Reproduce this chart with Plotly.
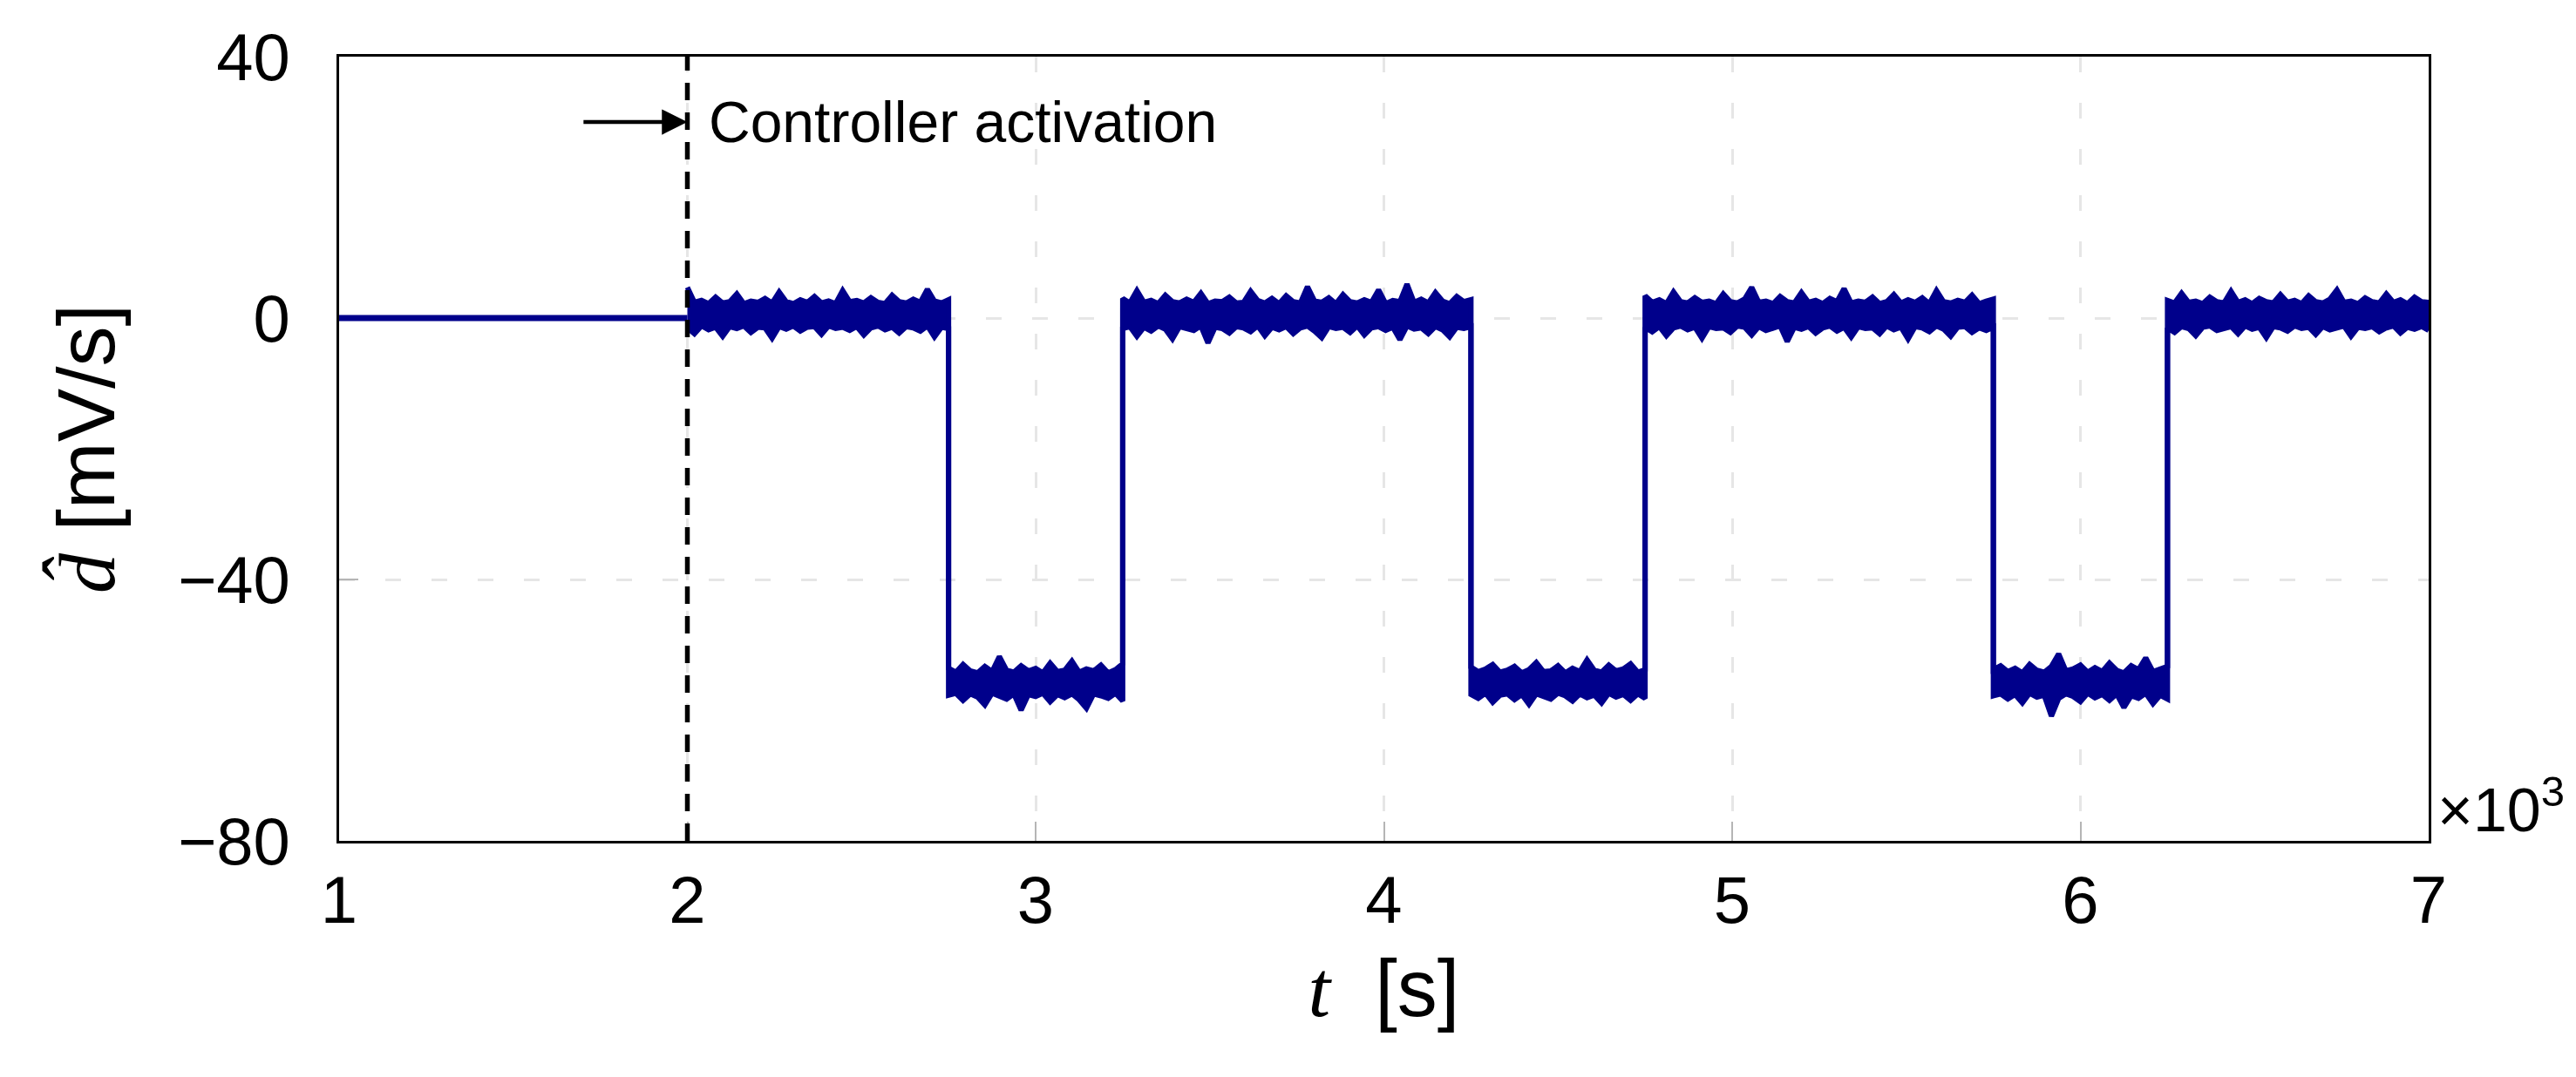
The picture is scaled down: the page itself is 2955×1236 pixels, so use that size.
import numpy as np
import plotly.graph_objects as go

# Segment boundaries [s]: off until activation, then disturbance steps
seg_bounds = [2000, 2750, 3250, 4250, 4750, 5750, 6250, 7000]
t_start = 1000
activation_t = 2000

# d_hat before the controller is switched on [mV/s]
d_pre = [0.0, 0.0]

# Envelope of the noisy d_hat estimate [mV/s], upper / lower, per segment
up_z1 = [4.7, 2.4, 2.7, 2.2, 3.2, 2.3, 2.5, 3.7, 2.2, 2.6, 2.4, 3.0, 2.3, 4.0, 2.5, 2.2, 2.8, 2.4, 3.3,
         2.3, 2.6, 2.2, 4.2, 2.5, 2.7, 2.3, 3.1, 2.4, 2.2, 3.5, 2.5, 2.3, 2.9, 2.4, 4.4, 2.6, 2.3, 2.8]
lo_z1 = [-1.5, -2.4, -1.2, -1.8, -1.4, -2.8, -1.3, -1.6, -1.2, -2.2, -1.4, -1.5, -3.1, -1.3, -1.7, -1.2,
         -2.0, -1.4, -1.3, -2.5, -1.2, -1.6, -1.4, -1.9, -1.3, -2.6, -1.5, -1.2, -1.8, -1.4, -2.3, -1.3,
         -1.5, -2.0, -1.2, -2.9, -1.4, -1.6]
up_l1 = [-53.6, -54.2, -53.0, -54.0, -54.3, -53.3, -54.1, -51.8, -53.9, -54.2, -53.2, -54.0, -53.6,
         -54.3, -52.8, -54.1, -53.9, -52.5, -54.2, -53.7, -54.0, -53.1, -54.3, -53.8, -52.9]
lo_l1 = [-57.7, -57.4, -58.5, -57.5, -58.0, -59.2, -57.4, -57.8, -58.3, -57.5, -60.0, -57.6, -57.9,
         -57.4, -58.7, -57.6, -58.1, -57.5, -58.4, -59.7, -57.5, -57.8, -58.2, -57.4, -58.6]
up_z2 = [3.0, 2.3, 4.2, 2.4, 2.7, 2.2, 3.5, 2.5, 2.3, 2.9, 2.4, 3.8, 2.2, 2.6, 2.5, 3.2, 2.3, 2.4, 4.1,
         2.7, 2.3, 3.0, 2.2, 3.4, 2.5, 2.3, 4.8, 2.6, 2.4, 3.1, 2.2, 3.6, 2.5, 2.3, 2.8, 2.4, 4.3, 2.2,
         2.7, 2.5, 5.2, 2.4, 2.9, 2.3, 3.9, 2.6, 2.2, 3.3, 2.5, 2.8]
lo_z2 = [-1.6, -1.3, -2.8, -1.4, -2.0, -1.2, -1.7, -3.2, -1.3, -1.5, -1.9, -1.2, -3.8, -1.4, -1.6, -2.3,
         -1.3, -1.5, -2.1, -1.2, -2.7, -1.4, -1.8, -1.3, -2.4, -1.5, -1.2, -2.0, -3.0, -1.3, -1.6, -1.4,
         -2.2, -1.2, -2.6, -1.5, -1.3, -1.9, -1.4, -3.3, -1.2, -1.7, -1.5, -2.4, -1.3, -1.8, -2.9, -1.4,
         -1.6, -1.3]
up_l2 = [-53.4, -54.1, -53.7, -53.0, -54.2, -53.9, -53.3, -54.3, -53.8, -52.7, -54.1, -54.0, -53.2,
         -54.3, -53.6, -54.1, -52.3, -53.9, -54.2, -53.1, -54.0, -53.7, -52.9, -54.2, -53.8]
lo_l2 = [-57.6, -58.2, -57.4, -58.8, -57.7, -57.5, -58.4, -57.6, -59.1, -57.5, -57.9, -58.3, -57.4,
         -57.8, -58.6, -57.5, -58.1, -57.7, -58.9, -57.4, -58.0, -57.6, -58.5, -57.5, -58.2]
up_z3 = [3.4, 2.4, 2.8, 2.2, 4.0, 2.5, 2.3, 3.1, 2.4, 2.6, 2.2, 3.7, 2.5, 2.3, 2.9, 4.7, 2.4, 2.6, 2.2,
         3.3, 2.5, 2.3, 3.9, 2.4, 2.7, 2.2, 3.0, 2.5, 4.5, 2.3, 2.6, 2.4, 3.2, 2.2, 2.5, 3.6, 2.3, 2.8,
         2.4, 3.1, 2.2, 4.2, 2.5, 2.3, 2.7, 2.4, 3.5, 2.2, 2.6, 2.9]
lo_z3 = [-1.4, -2.1, -1.3, -2.7, -1.5, -1.2, -1.8, -1.4, -3.1, -1.3, -1.6, -1.5, -2.2, -1.2, -1.4, -2.6,
         -1.3, -1.9, -1.5, -1.2, -3.6, -1.4, -1.7, -1.3, -2.3, -1.5, -1.2, -2.0, -1.4, -2.9, -1.3, -1.6,
         -1.5, -2.4, -1.2, -1.8, -1.4, -3.2, -1.3, -1.5, -2.1, -1.2, -1.7, -2.8, -1.4, -1.3, -2.2, -1.5,
         -1.9, -1.4]
up_l3 = [-53.8, -53.2, -54.1, -53.6, -54.3, -53.0, -53.9, -54.2, -53.3, -51.4, -54.0, -53.7, -53.1,
         -54.2, -53.5, -54.1, -52.8, -53.9, -54.3, -53.2, -53.8, -52.0, -54.1, -53.6, -53.3]
lo_l3 = [-57.8, -57.5, -58.3, -57.6, -58.9, -57.4, -58.0, -57.7, -60.9, -58.2, -57.5, -57.9, -58.7,
         -57.4, -58.1, -57.6, -58.5, -57.5, -59.6, -57.8, -58.2, -57.4, -59.0, -57.7, -58.3]
up_z4 = [2.7, 2.3, 3.8, 2.4, 2.6, 2.2, 3.2, 2.5, 2.3, 4.1, 2.4, 2.8, 2.2, 3.0, 2.5, 2.3, 3.6, 2.4, 2.7,
         2.2, 3.4, 2.5, 2.3, 2.9, 4.3, 2.4, 2.6, 2.2, 3.1, 2.5, 2.3, 3.7, 2.4, 2.8, 2.2, 3.2, 2.5, 2.4]
lo_z4 = [-1.5, -2.2, -1.3, -1.6, -2.7, -1.4, -1.2, -1.9, -1.5, -1.3, -2.4, -1.2, -1.7, -1.4, -3.0, -1.3,
         -1.5, -2.0, -1.2, -1.6, -1.4, -2.5, -1.3, -1.8, -1.5, -1.2, -2.8, -1.4, -1.6, -1.3, -2.1, -1.5,
         -1.2, -2.3, -1.4, -1.7, -1.3, -1.9]

upper_segs = [up_z1, up_l1, up_z2, up_l2, up_z3, up_l3, up_z4]
lower_segs = [lo_z1, lo_l1, lo_z2, lo_l2, lo_z3, lo_l3, lo_z4]

x_ticks = [1000, 2000, 3000, 4000, 5000, 6000, 7000]
x_ticklabels = ["1", "2", "3", "4", "5", "6", "7"]
y_ticks = [-80, -40, 0, 40]


def stack(segs):
    # samples spread evenly over each segment, steps at the segment bounds
    t, v = [], []
    for i, vals in enumerate(segs):
        t.extend(np.linspace(seg_bounds[i], seg_bounds[i + 1], len(vals)))
        v.extend(vals)
    return t, v


t_up, d_up = stack(upper_segs)
t_lo, d_lo = stack(lower_segs)

FONT = "Liberation Sans"
NAVY = "#00008b"

fig = go.Figure()

fig.add_trace(go.Scatter(
    x=[t_start, activation_t], y=d_pre, mode="lines",
    line=dict(color=NAVY, width=7), showlegend=False, hoverinfo="skip",
))
fig.add_trace(go.Scatter(
    x=t_up, y=d_up, mode="lines", line=dict(color=NAVY, width=6),
    showlegend=False, hoverinfo="skip",
))
fig.add_trace(go.Scatter(
    x=t_lo, y=d_lo, mode="lines", line=dict(color=NAVY, width=6),
    fill="tonexty", fillcolor=NAVY, showlegend=False, hoverinfo="skip",
))

# Controller activation marker
fig.add_trace(go.Scatter(
    x=[activation_t, activation_t], y=[-80, 40], mode="lines",
    line=dict(color="black", width=5.5, dash="20px,14px"),
    showlegend=False, hoverinfo="skip",
))

fig.add_annotation(
    x=activation_t, y=30, ax=1698, ay=30,
    xref="x", yref="y", axref="x", ayref="y",
    text="", showarrow=True, arrowhead=2, arrowsize=1.3, arrowwidth=4.5,
    arrowcolor="black",
)
fig.add_annotation(
    x=activation_t, y=30, xref="x", yref="y",
    text="Controller activation", showarrow=False,
    xanchor="left", yanchor="middle", xshift=22,
    font=dict(family=FONT, size=66, color="black"),
)
fig.add_annotation(
    x=1, y=0, xref="paper", yref="paper",
    text="×10<sup>3</sup>", showarrow=False,
    xanchor="left", yanchor="bottom", xshift=8, yshift=-6,
    font=dict(family=FONT, size=70, color="black"),
)

axis_common = dict(
    showline=True, linecolor="black", linewidth=3, mirror=True,
    showgrid=True, gridcolor="#e6e6e6", gridwidth=3, griddash="18px,35px",
    ticks="inside", ticklen=22, tickwidth=1.5, tickcolor="#b5b5b5",
    layer="below traces",
    zeroline=False, tickfont=dict(family=FONT, size=76, color="black"),
)

fig.update_xaxes(
    range=[1000, 7000], tickvals=x_ticks, ticktext=x_ticklabels,
    ticklabelstandoff=0,
    title=dict(text="<span style='font-family:Liberation Serif'><i>t</i></span>  [s]",
               font=dict(family=FONT, size=92, color="black"), standoff=28),
    **axis_common,
)
fig.update_yaxes(
    range=[-80, 40], tickvals=y_ticks, ticklabelstandoff=38,
    title=dict(text="<span style='font-family:Liberation Serif'><i>d̂</i></span> [mV/s]",
               font=dict(family=FONT, size=92, color="black"), standoff=42),
    **axis_common,
)

fig.update_layout(
    width=2955, height=1236,
    margin=dict(l=381, r=177, t=57, b=279),
    plot_bgcolor="white", paper_bgcolor="white",
)

fig.write_html("out.html")
